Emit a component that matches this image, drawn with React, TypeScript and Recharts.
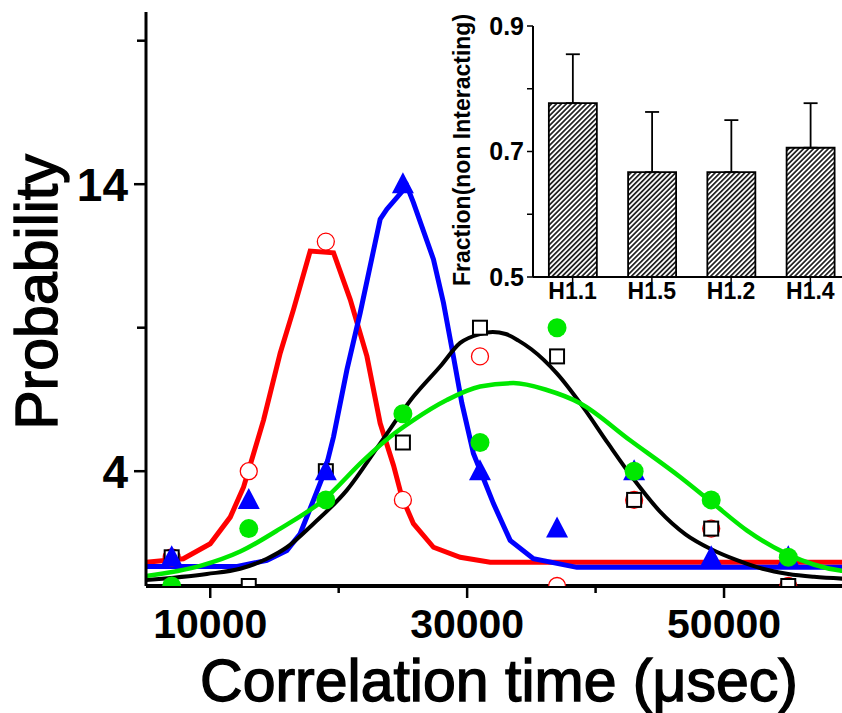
import React from 'react';
import { ComposedChart, Line, Scatter, XAxis, YAxis, BarChart, Bar, ErrorBar } from 'recharts';

const FONT = '"Liberation Sans", Arial, Helvetica, sans-serif';

// measured probabilities at each correlation time (µsec)
const sampleTimes = [7000, 13000, 19000, 25000, 31000, 37000, 43000, 49000, 55000];
const redProb = [1, 4, 12, 3, 8, 0, 3, 2, 0];
const blackProb = [1, 0, 4, 5, 9, 8, 3, 2, 0];
const blueProb = [1, 3, 4, 14, 4, 2, 4, 1, 1];
const greenProb = [0, 2, 3, 6, 5, 9, 4, 3, 1];

// fitted curves at their vertices
const redFitT = [5000, 7900, 10000, 11560, 12600, 14150, 15450, 16480, 17780, 19600, 20900, 22200, 23230, 24270, 24920, 25820, 27380, 29460, 31790, 60000];
const redFitP = [0.83, 0.95, 1.47, 2.4, 3.45, 5.78, 8.12, 9.63, 11.67, 11.61, 9.98, 8.0, 5.67, 4.2, 3.1, 2.17, 1.35, 1.0, 0.83, 0.83];

const blueFitT = [5000, 12100, 14410, 15970, 17000, 18040, 18950, 19600, 20640, 21670, 23230, 23750, 25310, 25820, 27380, 28160, 28930, 29590, 30490, 32050, 33350, 35160, 38540, 60000];
const blueFitP = [0.68, 0.68, 0.89, 1.24, 1.82, 2.99, 4.03, 5.2, 7.53, 9.51, 12.78, 13.13, 13.94, 13.36, 11.38, 9.86, 8.0, 6.37, 4.62, 2.87, 1.59, 0.95, 0.65, 0.65];

const blackFitT = [5000, 9740, 12330, 14410, 15970, 18040, 20640, 23230, 25820, 27900, 29460, 31000, 32000, 33000, 34000, 35000, 37000, 39000, 41000, 43000, 45000, 47000, 49000, 51000, 53000, 55000, 57000, 60000];
const blackFitP = [0.21, 0.42, 0.6, 0.95, 1.35, 2.17, 3.34, 4.97, 6.6, 7.65, 8.47, 8.78, 8.85, 8.78, 8.55, 8.25, 7.4, 6.25, 4.95, 3.7, 2.6, 1.8, 1.28, 0.9, 0.6, 0.42, 0.32, 0.24];

const greenFitT = [5000, 9220, 12330, 15450, 18820, 21930, 24010, 25820, 28420, 31010, 33600, 36200, 38790, 42680, 46580, 49170, 51770, 54880, 59030, 60000];
const greenFitP = [0.35, 0.7, 1.2, 2.0, 3.0, 4.38, 5.2, 5.78, 6.48, 6.95, 7.07, 6.83, 6.37, 5.08, 3.8, 2.87, 1.94, 1.12, 0.54, 0.5];

const timeTicks = [10000, 20000, 30000, 40000, 50000];
const timeLabeled = [10000, 30000, 50000];
const topTicks = [10000, 20000, 30000, 40000, 50000, 60000];
const probTicks = [4, 9, 14, 19];
const probLabeled = [4, 14];

// inset
const constructs = ['H1.1', 'H1.5', 'H1.2', 'H1.4'];
const fractionNonInteracting = [0.777, 0.667, 0.667, 0.706];
const fractionErrUp = [0.078, 0.096, 0.083, 0.071];
const fracTicks = [0.5, 0.6, 0.7, 0.8, 0.9];
const fracLabeled = [0.5, 0.7, 0.9];

const pts = (t: number[], p: number[]) => t.map((x, i) => ({ x, y: p[i] }));

const insetData = constructs.map((name, i) => ({
  name,
  frac: fractionNonInteracting[i],
  err: [0, fractionErrUp[i]],
}));

function TimeTick({ x, y, payload }: any) {
  const major = timeLabeled.includes(payload.value);
  return (
    <g>
      <line x1={x} x2={x} y1={y} y2={y + (major ? 12 : 7)} stroke="#000" strokeWidth={2.5} />
      {major && (
        <text x={x} y={y + 52} textAnchor="middle" fontSize={41} fontWeight="bold" fontFamily={FONT} fill="#000">
          {payload.value}
        </text>
      )}
    </g>
  );
}

function ProbTick({ x, y, payload }: any) {
  const major = probLabeled.includes(payload.value);
  return (
    <g>
      <line x1={x} x2={x - (major ? 12 : 9)} y1={y} y2={y} stroke="#000" strokeWidth={2.5} />
      {major && (
        <text x={x - 18} y={y + 17} textAnchor="end" fontSize={46} fontWeight="bold" fontFamily={FONT} fill="#000">
          {payload.value}
        </text>
      )}
    </g>
  );
}

const OpenCircle = (p: any) => <circle cx={p.cx} cy={p.cy} r={8.5} fill="#fff" stroke="#ff0000" strokeWidth={1.3} />;
const OpenSquare = (p: any) => <rect x={p.cx - 7} y={p.cy - 7} width={14} height={14} fill="#fff" stroke="#000" strokeWidth={2} />;
const Triangle = (p: any) => (
  <polygon points={`${p.cx},${p.cy - 12} ${p.cx - 11},${p.cy + 9} ${p.cx + 11},${p.cy + 9}`} fill="#0000ff" />
);
const Dot = (p: any) => <circle cx={p.cx} cy={p.cy} r={9.5} fill="#00e800" />;

function Inset() {
  return (
    <BarChart width={412} height={310} data={insetData} margin={{ top: 26, right: 2, left: 0, bottom: 0 }} barCategoryGap="20%">
      <XAxis
        dataKey="name"
        height={33}
        tickSize={5}
        tickMargin={1}
        axisLine={{ stroke: '#000', strokeWidth: 2 }}
        tickLine={{ stroke: '#000', strokeWidth: 1.5 }}
        tick={{ fontSize: 23, fontWeight: 'bold', fill: '#000', fontFamily: FONT }}
      />
      <XAxis
        xAxisId="top"
        dataKey="name"
        orientation="top"
        height={0}
        mirror
        tickSize={5}
        tickFormatter={() => ''}
        axisLine={{ stroke: '#000', strokeWidth: 2 }}
        tickLine={{ stroke: '#000', strokeWidth: 1.5 }}
      />
      <YAxis
        type="number"
        domain={[0.5, 0.9]}
        ticks={fracTicks}
        allowDataOverflow
        width={93}
        tickSize={6}
        tickMargin={3}
        tickFormatter={(v: number) => (fracLabeled.includes(v) ? v.toFixed(1) : '')}
        axisLine={{ stroke: '#000', strokeWidth: 2 }}
        tickLine={{ stroke: '#000', strokeWidth: 1.5 }}
        tick={{ fontSize: 25, fontWeight: 'bold', fill: '#000', fontFamily: FONT }}
      />
      <Bar dataKey="frac" fill="url(#hatch)" stroke="#000" strokeWidth={1.8} isAnimationActive={false}>
        <ErrorBar dataKey="err" width={7} stroke="#000" strokeWidth={1.8} direction="y" />
      </Bar>
      <text
        x={30}
        y={150}
        transform="rotate(-90, 30, 150)"
        textAnchor="middle"
        fontSize={23}
        fontWeight="bold"
        fontFamily={FONT}
        fill="#000"
      >
        Fraction(non Interacting)
      </text>
    </BarChart>
  );
}

export default function App() {
  return (
    <div style={{ position: 'fixed', left: 0, top: 0, width: 842, height: 713, overflow: 'hidden', background: '#fff' }}>
      <svg width={0} height={0} style={{ position: 'absolute' }}>
        <defs>
          <pattern id="hatch" width={3.5} height={3.5} patternUnits="userSpaceOnUse" patternTransform="rotate(45)">
            <rect width={3.5} height={3.5} fill="#fff" />
            <line x1={1.75} y1={0} x2={1.75} y2={3.5} stroke="#000" strokeWidth={1.5} />
          </pattern>
        </defs>
      </svg>
      <ComposedChart width={860} height={713} margin={{ top: 12, right: 7.5, left: 0, bottom: 0 }}>
        <XAxis
          dataKey="x"
          type="number"
          domain={[5000, 60000]}
          ticks={timeTicks}
          allowDataOverflow
          height={127}
          tickSize={0}
          tickMargin={0}
          tickLine={false}
          tick={<TimeTick />}
          axisLine={{ stroke: '#000', strokeWidth: 4 }}
        />
        <XAxis
          xAxisId="top"
          type="number"
          domain={[5000, 60000]}
          ticks={topTicks}
          orientation="top"
          height={0}
          mirror
          tickSize={6}
          tickFormatter={() => ''}
          axisLine={{ stroke: '#000', strokeWidth: 2.5 }}
          tickLine={{ stroke: '#000', strokeWidth: 2.5 }}
        />
        <YAxis
          dataKey="y"
          type="number"
          domain={[0, 20]}
          ticks={probTicks}
          allowDataOverflow
          width={146}
          tickSize={0}
          tickMargin={0}
          tickLine={false}
          tick={<ProbTick />}
          axisLine={{ stroke: '#000', strokeWidth: 3 }}
        />
        <Line data={pts(redFitT, redFitP)} dataKey="y" type="linear" stroke="#ff0000" strokeWidth={5} dot={false} activeDot={false} isAnimationActive={false} />
        <Line data={pts(blueFitT, blueFitP)} dataKey="y" type="linear" stroke="#0000ff" strokeWidth={5} dot={false} activeDot={false} isAnimationActive={false} />
        <Line data={pts(blackFitT, blackFitP)} dataKey="y" type="monotone" stroke="#000" strokeWidth={4} dot={false} activeDot={false} isAnimationActive={false} />
        <Line data={pts(greenFitT, greenFitP)} dataKey="y" type="monotone" stroke="#00e800" strokeWidth={4.5} dot={false} activeDot={false} isAnimationActive={false} />
        <Scatter data={pts(sampleTimes, redProb)} dataKey="y" shape={OpenCircle} isAnimationActive={false} />
        <Scatter data={pts(sampleTimes, blackProb)} dataKey="y" shape={OpenSquare} isAnimationActive={false} />
        <Scatter data={pts(sampleTimes, blueProb)} dataKey="y" shape={Triangle} isAnimationActive={false} />
        <Scatter data={pts(sampleTimes, greenProb)} dataKey="y" shape={Dot} isAnimationActive={false} />
        <text
          x={57}
          y={292}
          transform="rotate(-90, 57, 292)"
          textAnchor="middle"
          fontSize={59}
          fontFamily={FONT}
          fill="#000"
          stroke="#000"
          strokeWidth={1.4}
        >
          Probability
        </text>
        <text x={499} y={701} textAnchor="middle" fontSize={59} fontFamily={FONT} fill="#000" stroke="#000" strokeWidth={1.4}>
          Correlation time (μsec)
        </text>
      </ComposedChart>
      <div style={{ position: 'absolute', left: 440, top: 0 }}>
        <Inset />
      </div>
    </div>
  );
}
